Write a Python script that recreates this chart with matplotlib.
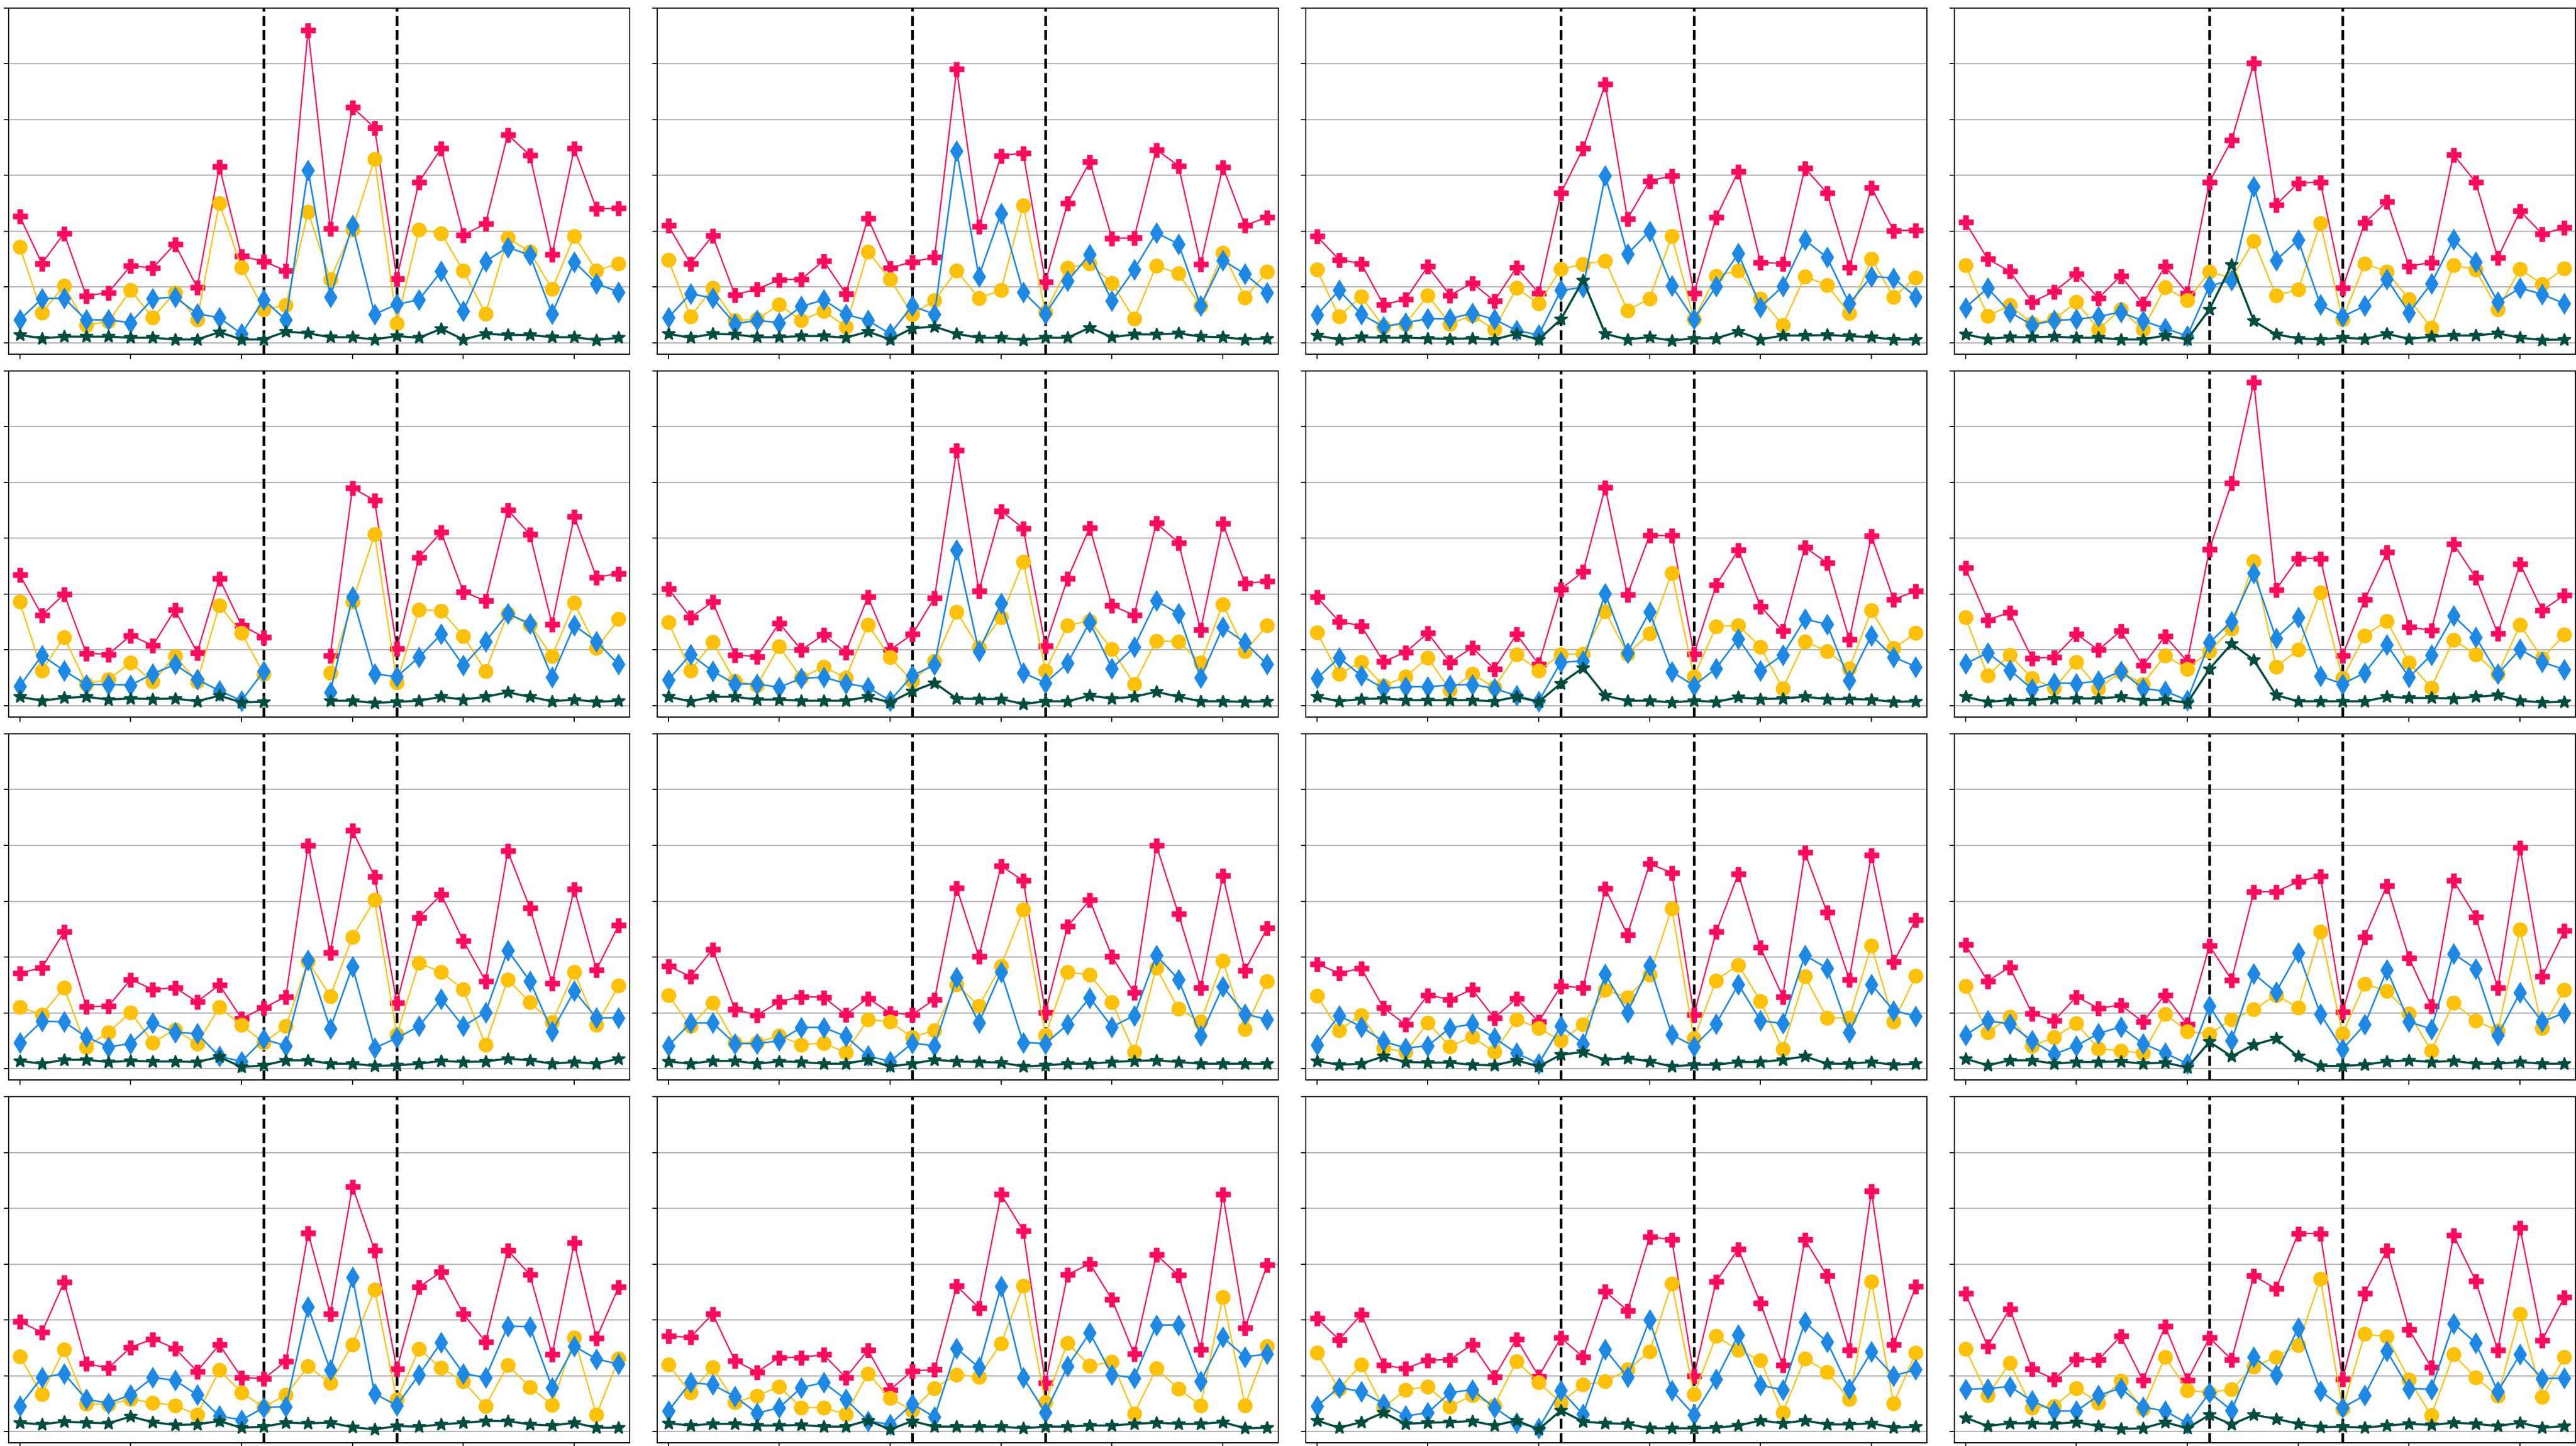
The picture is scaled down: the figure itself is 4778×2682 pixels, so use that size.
import numpy as np
import matplotlib
matplotlib.use("Agg")
import matplotlib.pyplot as plt

nan = np.nan

# one row per panel, row-major over the 4x4 grid; 28 points each
pink_vals = [
    [2.27,1.42,1.96,0.84,0.90,1.38,1.34,1.77,0.99,3.16,1.55,1.46,1.29,5.60,2.05,4.22,3.85,1.15,2.88,3.48,1.93,2.13,3.73,3.36,1.58,3.48,2.40,2.41],
    [2.10,1.42,1.92,0.86,0.96,1.13,1.14,1.47,0.88,2.23,1.34,1.45,1.53,4.90,2.08,3.35,3.40,1.09,2.50,3.24,1.87,1.88,3.46,3.17,1.41,3.15,2.10,2.25],
    [1.91,1.49,1.42,0.68,0.78,1.37,0.85,1.07,0.75,1.35,0.89,2.68,3.48,4.63,2.22,2.90,2.99,0.89,2.25,3.07,1.44,1.42,3.13,2.68,1.35,2.78,2.01,2.02],
    [2.16,1.50,1.28,0.73,0.92,1.23,0.80,1.20,0.70,1.37,0.89,2.88,3.63,5.01,2.47,2.86,2.88,0.98,2.15,2.53,1.37,1.44,3.37,2.88,1.52,2.36,1.95,2.06],
    [2.35,1.62,2.00,0.94,0.92,1.26,1.08,1.72,0.95,2.28,1.44,1.23,nan,nan,0.90,3.90,3.68,1.02,2.66,3.11,2.04,1.88,3.51,3.07,1.46,3.39,2.30,2.37],
    [2.10,1.58,1.86,0.91,0.88,1.48,1.00,1.27,0.96,1.95,1.00,1.28,1.93,4.58,2.06,3.49,3.18,1.07,2.28,3.19,1.80,1.62,3.27,2.92,1.36,3.26,2.19,2.23],
    [1.95,1.51,1.43,0.79,0.96,1.30,0.78,1.04,0.66,1.28,0.74,2.09,2.40,3.91,1.99,3.05,3.05,0.93,2.16,2.79,1.78,1.34,2.84,2.56,1.19,3.04,1.90,2.06],
    [2.47,1.54,1.67,0.85,0.87,1.28,1.00,1.34,0.72,1.25,0.79,2.80,3.99,5.79,2.08,2.64,2.64,0.90,1.90,2.75,1.41,1.35,2.90,2.30,1.29,2.54,1.71,1.98],
    [1.71,1.81,2.45,1.11,1.12,1.60,1.42,1.45,1.20,1.50,0.90,1.09,1.29,4.00,2.08,4.27,3.44,1.18,2.71,3.12,2.29,1.57,3.90,2.88,1.53,3.22,1.77,2.57],
    [1.84,1.65,2.14,1.06,0.96,1.20,1.29,1.28,0.97,1.26,1.00,0.97,1.24,3.24,2.01,3.63,3.37,1.01,2.55,3.02,2.01,1.36,4.00,2.77,1.45,3.46,1.76,2.52],
    [1.88,1.71,1.80,1.09,0.79,1.32,1.24,1.42,0.91,1.26,0.84,1.48,1.45,3.23,2.40,3.67,3.51,0.97,2.45,3.49,2.17,1.29,3.87,2.80,1.60,3.83,1.91,2.67],
    [2.22,1.57,1.82,0.99,0.86,1.29,1.08,1.14,0.84,1.32,0.79,2.20,1.59,3.17,3.17,3.35,3.45,1.02,2.36,3.28,1.98,1.12,3.37,2.72,1.45,3.96,1.65,2.47],
    [1.97,1.78,2.68,1.22,1.14,1.51,1.66,1.49,1.08,1.56,0.97,0.95,1.26,3.56,2.11,4.39,3.25,1.12,2.59,2.86,2.11,1.61,3.25,2.81,1.38,3.38,1.67,2.59],
    [1.71,1.69,2.11,1.27,1.07,1.33,1.33,1.38,0.97,1.46,0.75,1.09,1.11,2.61,2.22,4.25,3.60,0.87,2.81,3.01,2.37,1.39,3.17,2.80,1.47,4.25,1.86,2.99],
    [2.03,1.65,2.10,1.19,1.13,1.28,1.29,1.56,0.98,1.66,0.99,1.68,1.34,2.51,2.17,3.49,3.44,1.00,2.69,3.27,2.30,1.19,3.44,2.79,1.46,4.31,1.56,2.60],
    [2.48,1.53,2.20,1.12,0.94,1.30,1.29,1.71,0.92,1.89,0.92,1.68,1.29,2.79,2.56,3.55,3.55,0.94,2.48,3.25,1.83,1.15,3.52,2.70,1.46,3.65,1.64,2.41],
]

yellow_vals = [
    [1.72,0.54,1.02,0.32,0.38,0.94,0.45,0.90,0.41,2.50,1.35,0.60,0.67,2.34,1.14,2.03,3.29,0.35,2.03,1.96,1.29,0.52,1.88,1.63,0.96,1.91,1.29,1.42],
    [1.49,0.47,0.98,0.40,0.42,0.68,0.40,0.57,0.29,1.63,1.14,0.51,0.76,1.29,0.80,0.94,2.46,0.55,1.34,1.42,1.07,0.43,1.38,1.24,0.66,1.61,0.81,1.27],
    [1.31,0.47,0.83,0.29,0.34,0.85,0.34,0.49,0.24,0.98,0.70,1.32,1.41,1.47,0.58,0.79,1.91,0.42,1.20,1.29,0.79,0.32,1.19,1.03,0.53,1.50,0.82,1.17],
    [1.39,0.48,0.67,0.35,0.42,0.73,0.24,0.60,0.24,0.99,0.76,1.27,1.16,1.82,0.85,0.95,2.14,0.42,1.42,1.27,0.78,0.27,1.39,1.31,0.60,1.32,1.05,1.33],
    [1.86,0.63,1.23,0.39,0.47,0.77,0.43,0.89,0.43,1.80,1.30,0.57,nan,nan,0.59,1.86,3.07,0.42,1.72,1.70,1.25,0.62,1.65,1.45,0.89,1.84,1.03,1.55],
    [1.50,0.63,1.14,0.44,0.37,1.06,0.50,0.70,0.50,1.45,0.87,0.44,0.80,1.68,1.04,1.58,2.58,0.63,1.44,1.52,1.01,0.39,1.16,1.15,0.77,1.82,0.98,1.44],
    [1.31,0.57,0.78,0.36,0.52,0.86,0.28,0.57,0.33,0.92,0.63,0.92,0.93,1.69,0.93,1.29,2.38,0.52,1.42,1.44,1.05,0.31,1.15,0.98,0.67,1.71,1.03,1.30],
    [1.58,0.54,0.91,0.49,0.32,0.78,0.31,0.61,0.39,0.90,0.66,0.98,1.38,2.59,0.70,1.00,2.03,0.49,1.26,1.52,0.77,0.32,1.18,0.92,0.57,1.45,0.85,1.27],
    [1.10,0.97,1.45,0.39,0.65,1.01,0.47,0.70,0.45,1.10,0.78,0.47,0.76,1.92,1.30,2.36,3.02,0.61,1.89,1.73,1.42,0.43,1.60,1.19,0.83,1.73,0.78,1.49],
    [1.32,0.76,1.18,0.47,0.47,0.59,0.43,0.46,0.29,0.88,0.84,0.56,0.69,1.51,1.12,1.84,2.85,0.60,1.73,1.68,1.19,0.30,1.81,1.07,0.84,1.93,0.71,1.57],
    [1.31,0.69,0.96,0.37,0.30,0.82,0.40,0.57,0.30,0.88,0.73,0.50,0.79,1.41,1.28,1.68,2.87,0.54,1.58,1.86,1.21,0.35,1.65,0.91,0.91,2.20,0.84,1.66],
    [1.48,0.65,0.93,0.41,0.56,0.81,0.36,0.32,0.28,0.98,0.67,0.62,0.88,1.06,1.32,1.09,2.45,0.63,1.52,1.39,0.99,0.32,1.18,0.86,0.68,2.49,0.73,1.41],
    [1.35,0.67,1.47,0.50,0.49,0.58,0.52,0.47,0.30,1.10,0.70,0.44,0.66,1.17,0.87,1.56,2.54,0.57,1.48,1.14,0.90,0.46,1.19,0.80,0.48,1.68,0.30,1.31],
    [1.20,0.70,1.15,0.53,0.64,0.81,0.43,0.43,0.31,1.04,0.60,0.38,0.78,1.02,0.98,1.58,2.61,0.53,1.59,1.18,1.25,0.32,1.13,0.77,0.47,2.41,0.47,1.53],
    [1.41,0.77,1.20,0.43,0.75,0.81,0.45,0.65,0.47,1.26,0.88,0.52,0.84,0.90,1.11,1.43,2.65,0.67,1.71,1.46,1.28,0.34,1.31,1.07,0.58,2.69,0.51,1.41],
    [1.48,0.65,1.23,0.43,0.46,0.78,0.52,0.91,0.41,1.34,0.74,0.70,0.76,1.16,1.34,1.55,2.74,0.41,1.75,1.70,0.93,0.29,1.38,0.97,0.64,2.11,0.62,1.34],
]

blue_vals = [
    [0.41,0.79,0.80,0.41,0.41,0.36,0.79,0.82,0.52,0.45,0.16,0.77,0.41,3.09,0.82,2.10,0.51,0.69,0.77,1.28,0.57,1.46,1.71,1.57,0.52,1.45,1.06,0.91],
    [0.45,0.88,0.80,0.34,0.40,0.36,0.65,0.77,0.51,0.40,0.16,0.66,0.51,3.44,1.19,2.32,0.91,0.52,1.11,1.58,0.75,1.31,1.97,1.77,0.66,1.48,1.23,0.90],
    [0.50,0.94,0.51,0.29,0.36,0.43,0.43,0.53,0.42,0.22,0.14,0.94,0.99,2.99,1.59,2.00,1.02,0.42,1.01,1.60,0.64,1.01,1.84,1.53,0.70,1.19,1.16,0.82],
    [0.63,0.98,0.55,0.32,0.40,0.42,0.47,0.55,0.39,0.26,0.12,1.02,1.12,2.80,1.48,1.84,0.68,0.47,0.66,1.14,0.54,1.06,1.85,1.45,0.73,0.98,0.87,0.70],
    [0.35,0.90,0.63,0.38,0.38,0.37,0.57,0.74,0.47,0.27,0.09,0.62,nan,nan,0.24,1.95,0.57,0.52,0.87,1.28,0.72,1.15,1.65,1.47,0.51,1.44,1.15,0.74],
    [0.46,0.92,0.62,0.39,0.39,0.33,0.49,0.51,0.40,0.33,0.09,0.54,0.73,2.79,0.98,1.83,0.59,0.41,0.76,1.50,0.67,1.05,1.88,1.65,0.50,1.41,1.13,0.74],
    [0.49,0.86,0.54,0.31,0.34,0.34,0.37,0.38,0.31,0.18,0.08,0.78,0.80,2.01,0.95,1.68,0.61,0.36,0.67,1.20,0.63,0.91,1.55,1.46,0.45,1.26,0.87,0.70],
    [0.75,0.95,0.64,0.30,0.41,0.40,0.44,0.62,0.31,0.26,0.10,1.13,1.51,2.38,1.21,1.58,0.53,0.39,0.59,1.09,0.51,0.91,1.61,1.23,0.57,1.01,0.78,0.65],
    [0.47,0.85,0.84,0.57,0.39,0.45,0.82,0.65,0.63,0.22,0.13,0.53,0.41,1.94,0.72,1.83,0.37,0.55,0.76,1.25,0.76,1.01,2.12,1.57,0.67,1.39,0.91,0.91],
    [0.41,0.82,0.82,0.45,0.45,0.50,0.74,0.74,0.58,0.23,0.13,0.46,0.41,1.63,0.82,1.73,0.47,0.45,0.79,1.27,0.75,0.95,2.03,1.60,0.59,1.47,0.98,0.88],
    [0.43,0.95,0.75,0.49,0.37,0.41,0.73,0.80,0.55,0.28,0.09,0.76,0.45,1.69,1.01,1.85,0.61,0.40,0.80,1.51,0.86,0.81,2.03,1.80,0.65,1.51,1.04,0.94],
    [0.60,0.86,0.80,0.50,0.26,0.41,0.63,0.75,0.45,0.28,0.09,1.12,0.50,1.70,1.37,2.08,0.98,0.35,0.79,1.77,0.84,0.71,2.06,1.79,0.60,1.36,0.84,1.00],
    [0.46,0.97,1.04,0.58,0.51,0.66,0.97,0.92,0.66,0.28,0.21,0.43,0.45,2.23,1.10,2.77,0.68,0.47,1.02,1.60,1.04,0.97,1.89,1.88,0.79,1.53,1.30,1.21],
    [0.37,0.88,0.84,0.63,0.33,0.43,0.79,0.88,0.58,0.19,0.13,0.50,0.26,1.49,1.15,2.60,0.97,0.34,1.17,1.77,1.02,0.96,1.91,1.91,0.90,1.69,1.34,1.39],
    [0.46,0.79,0.72,0.50,0.28,0.34,0.70,0.75,0.43,0.16,0.06,0.74,0.31,1.47,0.98,2.00,0.74,0.30,0.94,1.73,0.83,0.75,1.96,1.61,0.77,1.43,1.00,1.11],
    [0.76,0.77,0.81,0.55,0.37,0.37,0.65,0.78,0.44,0.37,0.15,0.70,0.38,1.34,1.02,1.86,0.73,0.43,0.65,1.44,0.77,0.76,1.94,1.59,0.72,1.38,0.95,0.96],
]

green_vals = [
    [0.14,0.08,0.11,0.11,0.11,0.09,0.09,0.06,0.06,0.19,0.06,0.06,0.20,0.17,0.10,0.10,0.06,0.12,0.09,0.25,0.06,0.16,0.14,0.14,0.10,0.10,0.05,0.09],
    [0.16,0.09,0.16,0.15,0.10,0.10,0.12,0.12,0.09,0.20,0.06,0.26,0.29,0.16,0.09,0.09,0.05,0.09,0.09,0.27,0.10,0.15,0.15,0.17,0.11,0.10,0.06,0.08],
    [0.13,0.06,0.10,0.09,0.09,0.08,0.07,0.08,0.06,0.16,0.06,0.42,1.12,0.16,0.06,0.10,0.04,0.08,0.08,0.20,0.06,0.13,0.13,0.14,0.12,0.10,0.06,0.06],
    [0.15,0.07,0.10,0.10,0.11,0.09,0.09,0.06,0.06,0.13,0.06,0.60,1.40,0.39,0.15,0.08,0.06,0.09,0.07,0.16,0.07,0.11,0.13,0.13,0.17,0.09,0.05,0.06],
    [0.16,0.09,0.14,0.16,0.11,0.13,0.12,0.13,0.08,0.18,0.06,0.07,nan,nan,0.09,0.09,0.05,0.07,0.09,0.16,0.11,0.16,0.24,0.16,0.08,0.11,0.07,0.09],
    [0.16,0.08,0.16,0.16,0.11,0.11,0.09,0.09,0.09,0.16,0.06,0.26,0.41,0.13,0.12,0.12,0.03,0.08,0.08,0.18,0.13,0.16,0.25,0.16,0.08,0.08,0.07,0.08],
    [0.16,0.08,0.12,0.13,0.10,0.10,0.10,0.10,0.08,0.16,0.07,0.40,0.68,0.18,0.09,0.09,0.06,0.09,0.07,0.15,0.12,0.13,0.16,0.12,0.12,0.11,0.07,0.08],
    [0.16,0.07,0.10,0.10,0.13,0.13,0.13,0.16,0.10,0.11,0.05,0.66,1.11,0.82,0.19,0.08,0.08,0.08,0.08,0.16,0.14,0.14,0.13,0.16,0.19,0.09,0.06,0.07],
    [0.14,0.09,0.16,0.16,0.12,0.14,0.13,0.13,0.12,0.21,0.03,0.06,0.15,0.15,0.09,0.09,0.05,0.06,0.09,0.14,0.12,0.13,0.18,0.15,0.09,0.12,0.09,0.18],
    [0.13,0.09,0.14,0.14,0.09,0.13,0.12,0.09,0.09,0.16,0.04,0.09,0.16,0.13,0.12,0.11,0.04,0.06,0.09,0.09,0.12,0.14,0.15,0.12,0.09,0.09,0.09,0.09],
    [0.14,0.07,0.09,0.22,0.12,0.11,0.11,0.07,0.06,0.15,0.04,0.25,0.30,0.16,0.19,0.13,0.04,0.07,0.07,0.12,0.12,0.16,0.22,0.09,0.09,0.12,0.07,0.09],
    [0.18,0.06,0.15,0.15,0.09,0.12,0.12,0.13,0.09,0.11,0.02,0.48,0.22,0.43,0.54,0.22,0.05,0.05,0.07,0.13,0.15,0.12,0.14,0.09,0.09,0.12,0.09,0.09],
    [0.16,0.13,0.18,0.16,0.15,0.27,0.17,0.12,0.13,0.19,0.07,0.09,0.16,0.15,0.16,0.08,0.04,0.10,0.09,0.13,0.16,0.19,0.19,0.13,0.11,0.16,0.07,0.07],
    [0.15,0.11,0.14,0.14,0.11,0.11,0.12,0.09,0.09,0.20,0.04,0.19,0.09,0.09,0.09,0.09,0.06,0.09,0.09,0.11,0.11,0.14,0.16,0.14,0.14,0.17,0.06,0.07],
    [0.20,0.07,0.17,0.34,0.14,0.16,0.17,0.19,0.11,0.20,0.04,0.38,0.18,0.15,0.14,0.06,0.06,0.06,0.07,0.11,0.20,0.15,0.20,0.13,0.13,0.15,0.07,0.09],
    [0.25,0.10,0.15,0.15,0.14,0.17,0.10,0.05,0.06,0.17,0.06,0.30,0.13,0.30,0.23,0.14,0.08,0.09,0.07,0.11,0.14,0.12,0.16,0.14,0.10,0.16,0.07,0.10],
]

event_lines = [11, 17]

styles = [
    (pink_vals, "#FF0A5C", "P", 1.0),
    (yellow_vals, "#FFC107", "o", 1.0),
    (blue_vals, "#1E88E5", "d", 1.2),
    (green_vals, "#004D40", "*", 1.6),
]

W, H, dpi = 4778, 2682, 180
fig = plt.figure(figsize=(W / dpi, H / dpi), dpi=dpi)

x = np.arange(28)
for k in range(16):
    r, c = divmod(k, 4)
    left = (16 + 1203 * c) / W
    top = 14.5 + 673.2 * r
    ax = fig.add_axes([left, 1 - (top + 642) / H, 1152 / W, 642 / H])
    ax.yaxis.grid(True, color="#b0b0b0", lw=0.9)
    ax.set_axisbelow(True)
    for xv in event_lines:
        ax.axvline(xv, color="k", ls="--", lw=2)
    for vals, col, mk, lw in styles:
        ax.plot(x, vals[k], color=col, marker=mk, ms=10, lw=lw)
    ax.set_xlim(-0.5, 27.5)
    ax.set_ylim(-0.2, 6)
    ax.set_xticks(range(0, 28, 5))
    ax.set_yticks(range(0, 7))
    ax.tick_params(labelleft=False, labelbottom=False)

fig.savefig("out.png", dpi=dpi)
